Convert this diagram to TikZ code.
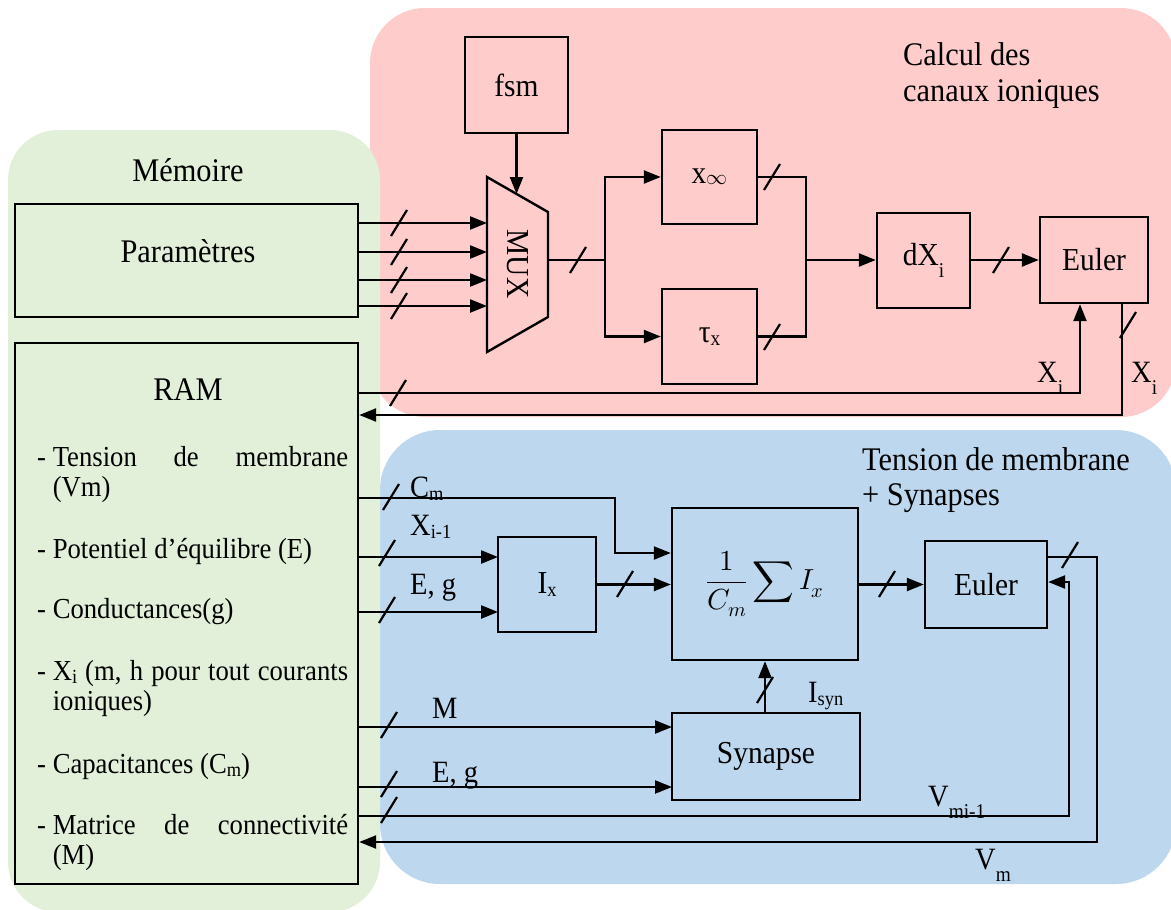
\documentclass[tikz,border=0pt]{standalone}
\usepackage{unicode-math}
\setmainfont{Liberation Serif}[FakeStretch=0.92]
\setmathfont{Latin Modern Math}
\usetikzlibrary{arrows.meta,calc}
\definecolor{pinkbg}{RGB}{255,204,204}
\definecolor{bluebg}{RGB}{189,215,238}
\definecolor{greenbg}{RGB}{226,239,217}
\newcommand{\fsz}[1]{\fontsize{#1}{#1}\selectfont}
\newcommand{\smsb}[1]{\raisebox{-0.25ex}{\fsz{20}#1}}
\newcommand{\lowsb}[1]{\raisebox{-0.85ex}{\fsz{21}#1}}
\begin{document}
\begin{tikzpicture}[x=1pt,y=-1pt,
  box/.style={draw,line width=2.4pt,inner sep=0pt,font=\fsz{32}},
  conn/.style={line width=2.4pt},
  arr/.style={conn,-{Triangle[length=17pt,width=13pt]}},
  lbl/.style={inner sep=0pt,anchor=base west,font=\fsz{31}},
  title/.style={inner sep=0pt,anchor=base west,font=\fsz{33}},
  item/.style={inner sep=0pt,anchor=base west,font=\fsz{29}},
  bus/.pic={\draw[line width=2.2pt] (-8,13) -- (8,-13);}
]
\useasboundingbox (0,0) rectangle (1171,910);
% background panels
\fill[pinkbg,rounded corners=55pt] (370,8) rectangle (1176,417);
\fill[bluebg,rounded corners=60pt] (380,430) rectangle (1176,884);
\fill[greenbg,rounded corners=50pt] (8,130) rectangle (380,912);

% titles
\node[title,anchor=base] (memt) at (188,181) {Mémoire};
\node[title] (calc1) at (903,65) {Calcul des};
\node[title] (calc2) at (903,101) {canaux ioniques};
\node[title] (tens1) at (862,470) {Tension de membrane};
\node[title] (tens2) at (862,505) {+ Synapses};

% memory boxes
\node[box,minimum width=343pt,minimum height=113pt] (param) at (186.5,260.5) {};
\node[title,anchor=base] (paraml) at (188,262) {Paramètres};
\node[box,minimum width=343pt,minimum height=541pt] (ram) at (186.5,613.5) {};
\node[title,anchor=base] (raml) at (188,400) {RAM};
\node[item] (it1) at (37,466) {\makebox[311pt][s]{\mbox{- Tension} de membrane}};
\node[item] (it1b) at (37,496) {\phantom{- }(Vm)};
\node[item] (it2) at (37,558) {- Potentiel d’équilibre (E)};
\node[item] (it3) at (37,618) {- Conductances(g)};
\node[item] (it4) at (37,680) {\makebox[311pt][s]{\mbox{- X\smsb{i}} (m, h pour tout courants}};
\node[item] (it4b) at (37,710) {\phantom{- }ioniques)};
\node[item] (it5) at (37,773) {- Capacitances (C\smsb{m})};
\node[item] (it6) at (37,834) {\makebox[311pt][s]{\mbox{- Matrice} de connectivité}};
\node[item] (it6b) at (37,864) {\phantom{- }(M)};

% ion channel part
\node[box,minimum width=103pt,minimum height=96pt] (fsm) at (516.5,85) {fsm};
\coordinate (mtl) at (487,177);
\coordinate (mbl) at (487,352);
\coordinate (mtr) at (548,212);
\coordinate (mbr) at (548,317);
\draw[conn,line join=miter] (mtl) -- (mtr) -- (mbr) -- (mbl) -- cycle;
\node[rotate=-90,font=\fsz{32},inner sep=0pt] (muxl) at (518,264) {MUX};
\coordinate (mtop) at (516.5,194);
\draw[arr] (fsm.south) -- (mtop);

\coordinate (mi1) at (487,223);
\coordinate (mi2) at (487,252);
\coordinate (mi3) at (487,280);
\coordinate (mi4) at (487,306);
\foreach \c in {mi1,mi2,mi3,mi4}{
  \draw[arr] (param.east |- \c) -- (\c);
}
\pic at (399,223) {bus};
\pic at (399,252) {bus};
\pic at (399,280) {bus};
\pic at (399,306) {bus};

\node[box,minimum width=95pt,minimum height=94pt] (xinf) at (709.5,177) {x\raisebox{-0.1ex}{\fsz{21}$\infty$}};
\node[box,minimum width=95pt,minimum height=95pt] (tau) at (709.5,336.5) {τ\raisebox{-0.2ex}{\fsz{21}x}};
\coordinate (mo) at (548,260);
\coordinate (br) at (605,260);
\draw[conn] (mo) -- (br);
\pic at (578,260) {bus};
\draw[arr] (br) |- (xinf.west);
\draw[arr] (br) |- (tau.west);

\node[box,minimum width=93pt,minimum height=95pt] (dxi) at (923.5,260.5) {dX\lowsb{i}};
\node[box,minimum width=108pt,minimum height=86pt] (euler1) at (1094,260) {Euler};
\coordinate (jn) at (806,260);
\draw[conn] (xinf.east) -| (jn);
\draw[conn] (tau.east) -| (jn);
\pic at (772,177) {bus};
\pic at (772,337) {bus};
\draw[arr] (jn) -- (jn -| dxi.west);
\draw[arr] (dxi.east |- euler1) -- (euler1.west);
\pic at (1001,260) {bus};

\coordinate (fb) at (1080,393);
\draw[arr] (ram.east |- fb) -- (fb) -- (fb |- euler1.south);
\pic at (398,393) {bus};
\coordinate (rt) at (1122,415);
\draw[arr] (euler1.south -| rt) -- (rt) -- (rt -| ram.east);
\pic at (1128,325) {bus};
\node[lbl] (xil) at (1037,382) {X\lowsb{i}};
\node[lbl] (xir) at (1131,382) {X\lowsb{i}};

% membrane part
\node[box,minimum width=98pt,minimum height=95pt] (ix) at (547,584.5) {I\smsb{x}};
\node[box,minimum width=186pt,minimum height=152pt] (sum) at (765,584) {\fsz{29}$\displaystyle\frac{1}{C_m}\sum I_x$};
\node[box,minimum width=122pt,minimum height=87pt] (euler2) at (986,584.5) {Euler};
\node[box,minimum width=188pt,minimum height=87pt] (syn) at (766,756.5) {Synapse};

\coordinate (cmc) at (615,498);
\coordinate (cmt) at (615,553);
\draw[arr] (ram.east |- cmc) -- (cmc) -- (cmt) -- (cmt -| sum.west);
\pic at (391,497) {bus};
\node[lbl] (cml) at (410,497) {C\smsb{m}};

\coordinate (ixa) at (498,557);
\coordinate (ixb) at (498,612);
\draw[arr] (ram.east |- ixa) -- (ixa);
\draw[arr] (ram.east |- ixb) -- (ixb);
\pic at (387,553) {bus};
\pic at (387,610) {bus};
\node[lbl] (xim) at (410,535) {X\smsb{i-1}};
\node[lbl] (egl1) at (410,594) {E, g};

\draw[arr] (ix.east) -- (ix.east -| sum.west);
\pic at (625,584) {bus};
\draw[arr] (sum.east |- euler2) -- (euler2.west);
\pic at (887,584) {bus};

\draw[arr] (syn.north -| sum.south) -- (sum.south);
\pic at (765,690) {bus};
\node[lbl] (isyn) at (808,702) {I\smsb{syn}};

\coordinate (sma) at (672,727);
\coordinate (smb) at (672,787);
\draw[arr] (ram.east |- sma) -- (sma);
\draw[arr] (ram.east |- smb) -- (smb);
\pic at (389,725) {bus};
\pic at (389,784) {bus};
\node[lbl] (ml) at (432,718) {M};
\node[lbl] (egl2) at (432,782) {E, g};

\coordinate (vfa) at (1069,816);
\coordinate (vfb) at (1069,582);
\draw[arr] (ram.east |- vfa) -- (vfa) -- (vfb) -- (vfb -| euler2.east);
\pic at (389,810) {bus};
\node[lbl] (vmi) at (928,806) {V\lowsb{mi-1}};

\coordinate (voa) at (1097,557);
\coordinate (vob) at (1097,842);
\draw[arr] (voa -| euler2.east) -- (voa) -- (vob) -- (vob -| ram.east);
\pic at (1070,555) {bus};
\node[lbl] (vml) at (975,869) {V\lowsb{m}};
\end{tikzpicture}
\end{document}
